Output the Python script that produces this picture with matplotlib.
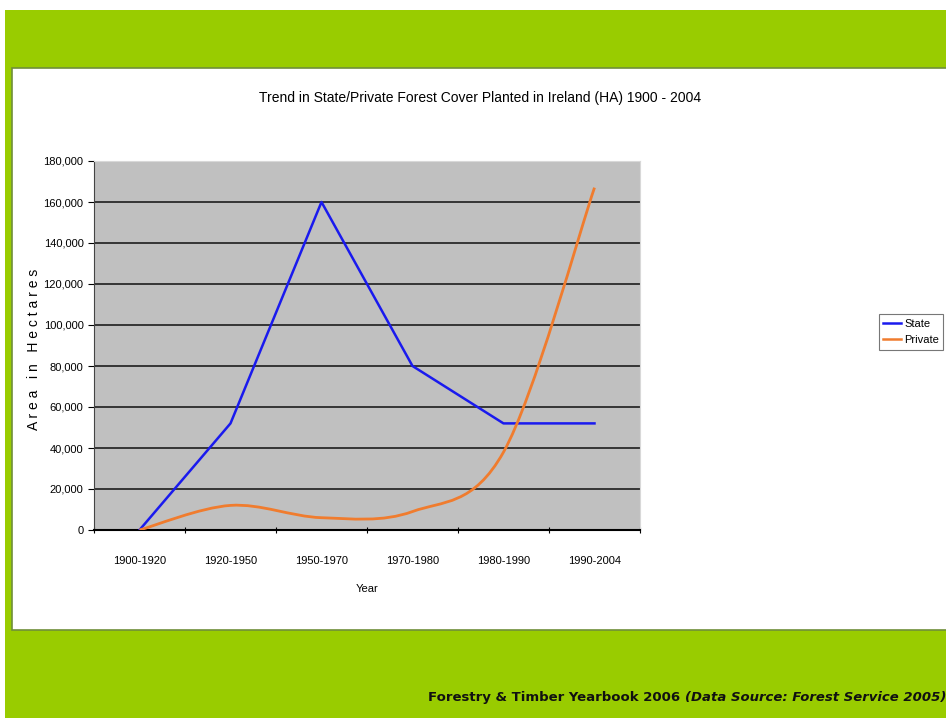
import numpy as np
import matplotlib
matplotlib.use("Agg")
from matplotlib import pyplot as plt
from matplotlib.patches import Rectangle, PathPatch
from matplotlib.path import Path

periods = ['1900-1920', '1920-1950', '1950-1970', '1970-1980', '1980-1990', '1990-2004']
state = [0, 52000, 160000, 80000, 52000, 52000]
private = [0, 12000, 6000, 9000, 38000, 167000]
y_ticks = [0, 20000, 40000, 60000, 80000, 100000, 120000, 140000, 160000, 180000]

GREEN = '#99cc00'
NARROW = ['Liberation Sans Narrow', 'Liberation Sans', 'DejaVu Sans']


def smooth_path(xs, ys):
    # excel style smoothed line: catmull-rom as cubic bezier segments
    verts = [(xs[0], ys[0])]
    codes = [Path.MOVETO]
    n = len(xs)
    for i in range(n - 1):
        p0 = (xs[max(i - 1, 0)], ys[max(i - 1, 0)])
        p1 = (xs[i], ys[i])
        p2 = (xs[i + 1], ys[i + 1])
        p3 = (xs[min(i + 2, n - 1)], ys[min(i + 2, n - 1)])
        c1 = (p1[0] + (p2[0] - p0[0]) / 6, p1[1] + (p2[1] - p0[1]) / 6)
        c2 = (p2[0] - (p3[0] - p1[0]) / 6, p2[1] - (p3[1] - p1[1]) / 6)
        verts += [c1, c2, p2]
        codes += [Path.CURVE4] * 3
    return Path(verts, codes)


fig = plt.figure(figsize=(9.46, 7.18), dpi=100)
fig.patch.set_facecolor('white')

# green slide background + white panel
fig.patches.append(Rectangle((5 / 946, 0), 1, 1 - 10 / 718, transform=fig.transFigure,
                             facecolor=GREEN, edgecolor='none', zorder=-3))
fig.patches.append(Rectangle((12 / 946, 1 - 630 / 718), 1, (630 - 68) / 718, transform=fig.transFigure,
                             facecolor='white', edgecolor='#6f8f3a', linewidth=1.2, zorder=-2))

ax = fig.add_axes([94 / 946, 1 - 530 / 718, 546 / 946, 369 / 718])
ax.set_facecolor('#c0c0c0')

x = np.arange(len(periods))
ax.plot(x, state, color='#1a1aee', linewidth=1.8, label='State', zorder=3)
ax.add_patch(PathPatch(smooth_path(x, private), facecolor='none', edgecolor='#f07c2e',
                       linewidth=2, zorder=3))
ax.plot([], [], color='#f07c2e', linewidth=1.8, label='Private')

ax.set_xlim(-0.5, len(periods) - 0.5)
ax.set_ylim(0, 180000)
ax.set_yticks(y_ticks)
ax.set_yticklabels(['{:,}'.format(v) for v in y_ticks], fontsize=8, family=NARROW)
ax.yaxis.grid(True, color='#2a2a2a', linewidth=1.3)
ax.set_axisbelow(True)

ax.set_xticks(np.arange(len(periods) + 1) - 0.5)
ax.set_xticklabels([])
ax.set_xticks(x, minor=True)
ax.set_xticklabels(periods, minor=True, fontsize=8, family=NARROW)
ax.tick_params(axis='x', which='minor', length=0, pad=19)
ax.tick_params(axis='x', which='major', length=5, direction='inout')
ax.tick_params(axis='y', length=4, direction='out')

for s in ['top', 'right']:
    ax.spines[s].set_color('#d8d8d8')
ax.spines['bottom'].set_linewidth(1.5)
ax.spines['left'].set_color('#444444')

ax.set_xlabel('Year', fontsize=8, family=NARROW, labelpad=13)
ax.set_ylabel('A r e a   i n   H e c t a r e s', fontsize=10, family=NARROW)
ax.yaxis.set_label_coords(-0.097, 0.49)

fig.text(480 / 946, 1 - 98 / 718,
         'Trend in State/Private Forest Cover Planted in Ireland (HA) 1900 - 2004',
         ha='center', va='center', fontsize=10, family=NARROW)

leg = fig.legend(loc='center left', bbox_to_anchor=(873 / 946, 1 - 332 / 718),
                 prop={'family': NARROW, 'size': 8}, frameon=True, fancybox=False,
                 handlelength=1.6, handletextpad=0.3, borderpad=0.4, labelspacing=0.6)
leg.get_frame().set_edgecolor('#555555')
leg.get_frame().set_linewidth(0.8)

t1 = fig.text(428 / 946, 1 - 697 / 718, 'Forestry & Timber Yearbook 2006 ',
              ha='left', va='center', fontsize=9.5, fontweight='bold', color='#111111')
fig.canvas.draw()
bb = t1.get_window_extent()
fig.text(bb.x1 / fig.bbox.width, 1 - 697 / 718, '(Data Source: Forest Service 2005)',
         ha='left', va='center', fontsize=9.5, fontweight='bold', style='italic', color='#111111')

fig.savefig('out.png', dpi=100)
